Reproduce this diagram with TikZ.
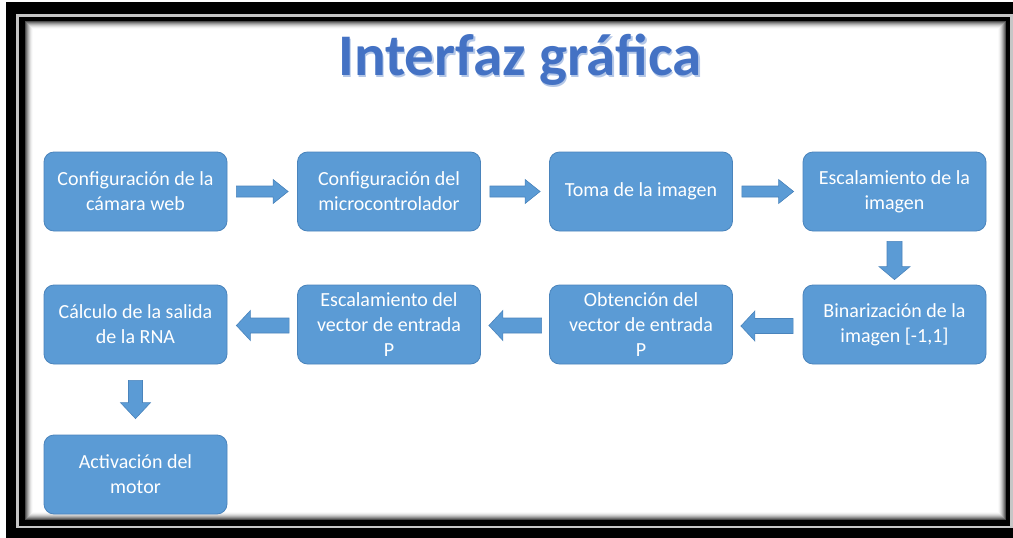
\documentclass[tikz,border=0pt]{standalone}
\usepackage{fontspec}
\setmainfont{Carlito}
\usetikzlibrary{calc}
\definecolor{boxfill}{HTML}{5B9BD5}
\definecolor{boxline}{HTML}{4A84BC}
\definecolor{titleblue}{HTML}{4472C4}
\definecolor{titleshadow}{HTML}{B4C7E7}
\tikzset{
  stepbox/.style={draw=boxline, line width=0.8pt, fill=boxfill, rounded corners=10pt,
    minimum width=183pt, minimum height=79pt, inner sep=0pt, align=center,
    text=white, font=\fontsize{20}{25}\selectfont},
  blockarrow/.style={draw=boxline, line width=0.6pt, fill=boxfill}
}
% horizontal block arrow: #1 start, #2 tip, #3 shaft half, #4 head half, #5 head length
\newcommand\hblock[5]{%
  \path[blockarrow] let \p1=#1, \p2=#2, \n1={(\x2-\x1)/abs(\x2-\x1)} in
    (\x1,{\y1+#3pt}) -- ({\x2-\n1*#5pt},{\y1+#3pt}) -- ({\x2-\n1*#5pt},{\y1+#4pt})
    -- (\x2,\y1) -- ({\x2-\n1*#5pt},{\y1-#4pt}) -- ({\x2-\n1*#5pt},{\y1-#3pt})
    -- (\x1,{\y1-#3pt}) -- cycle;}
\newcommand\vblock[5]{%
  \path[blockarrow] let \p1=#1, \p2=#2, \n1={(\y2-\y1)/abs(\y2-\y1)} in
    ({\x1-#3pt},\y1) -- ({\x1-#3pt},{\y2-\n1*#5pt}) -- ({\x1-#4pt},{\y2-\n1*#5pt})
    -- (\x1,\y2) -- ({\x1+#4pt},{\y2-\n1*#5pt}) -- ({\x1+#3pt},{\y2-\n1*#5pt})
    -- ({\x1+#3pt},\y1) -- cycle;}
\newcommand\titletext{Interfaz gráfica}
\begin{document}
\begin{tikzpicture}[x=1pt,y=-1pt]
\useasboundingbox (0,0) rectangle (1013,538);
% frame
\fill[white] (0,0) rectangle (1013,538);
\fill[black] (6,2) rectangle (1013,538);
\fill[gray!45] (16,14) rectangle (1013,528);
\fill[black] (19,17) rectangle (1010,526);
\fill[white] (25,21) rectangle (1006,520);
\foreach \i/\p in {0/70,1/55,2/42,3/30,4/20,5/12,6/6,7/2}{
  \draw[black!\p, line width=1pt] ({25.5+\i},{21.5+\i}) rectangle ({1005.5-\i},{519.5-\i});
}
% title (with its light shadow in the same node)
\node[anchor=base, text=titleblue, font=\bfseries\fontsize{59}{60}\selectfont] (title) at (520,75)
  {\makebox[0pt][l]{\hspace{1.5pt}\raisebox{-2.5pt}[0pt][0pt]{\color{titleshadow}\titletext}}\titletext};
% boxes
\node[stepbox] (b1) at (135.5,191.5) {Configuración de la\\cámara web};
\node[stepbox] (b2) at (389,191.5) {Configuración del\\microcontrolador};
\node[stepbox] (b3) at (641,191.5) {Toma de la imagen};
\node[stepbox] (b4) at (894.5,191.5) {Escalamiento de la\\imagen};
\node[stepbox] (b5) at (894.5,324.5) {Binarización de la\\imagen [-1,1]};
\node[stepbox] (b6) at (641,324.5) {Obtención del\\vector de entrada\\P};
\node[stepbox] (b7) at (389,324.5) {Escalamiento del\\vector de entrada\\P};
\node[stepbox] (b8) at (135.5,324.5) {Cálculo de la salida\\de la RNA};
\node[stepbox] (b9) at (135.5,474.5) {Activación del\\motor};
% arrows
\hblock{($(b1.east)+(9,0)$)}{($(b2.west)+(-9,0)$)}{5.5}{12}{15}
\hblock{($(b2.east)+(9,0)$)}{($(b3.west)+(-9,0)$)}{5.5}{12}{15}
\hblock{($(b3.east)+(9,0)$)}{($(b4.west)+(-9,0)$)}{5.5}{12}{15}
\vblock{($(b4.south)+(0,10)$)}{($(b5.north)+(0,-5)$)}{7.5}{15.5}{13}
\hblock{($(b5.west)+(-9.5,1.5)$)}{($(b6.east)+(8,1.5)$)}{7.5}{15}{14}
\hblock{($(b6.west)+(-7.5,1)$)}{($(b7.east)+(8,1)$)}{7.5}{15}{14}
\hblock{($(b7.west)+(-8,1)$)}{($(b8.east)+(9,1)$)}{7.5}{15}{14}
\vblock{($(b8.south)+(0,16)$)}{($(b9.north)+(0,-16)$)}{7}{15}{16}
\end{tikzpicture}
\end{document}
